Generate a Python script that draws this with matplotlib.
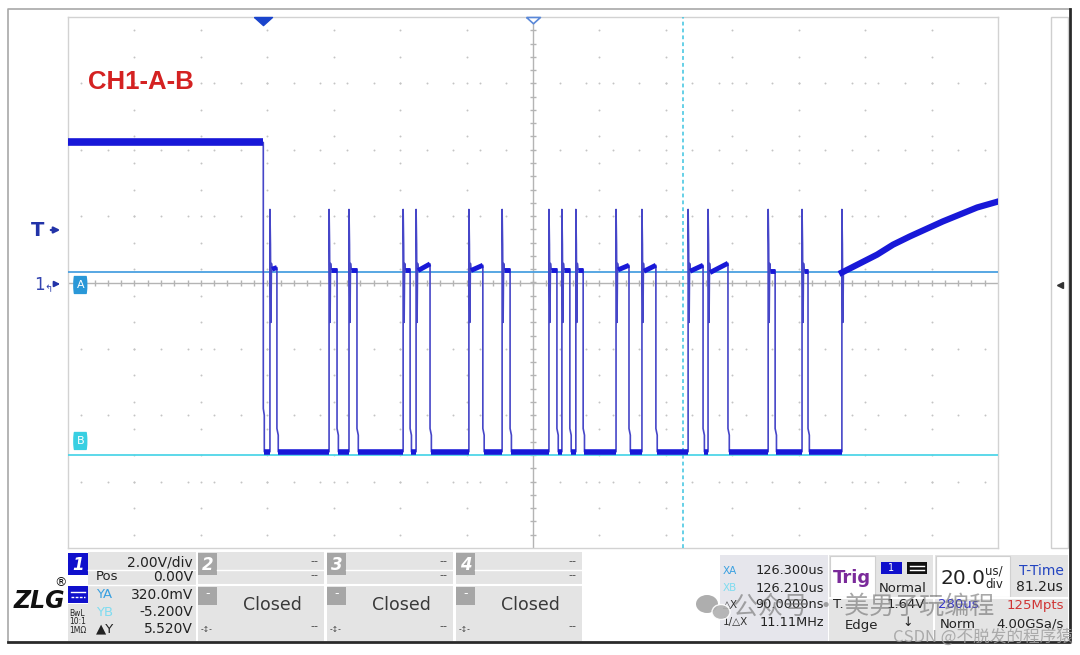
"""Oscilloscope capture: CH1 with A/B cursors, 20 us/div, 2 V/div."""
import matplotlib.pyplot as plt
import numpy as np
from matplotlib.patches import Rectangle, FancyBboxPatch, Ellipse

# ---- CH1 trace (time in us from screen centre, volts) ----
trig_us = -81.2
cursor_x_us = trig_us + 126.3
cursor_a_v = 0.32
cursor_b_v = -5.2
high_v = 4.22
low_v = -5.1
spike_v = 2.2
ring_hi_v = 1.15
ring_lo_v = -1.2
first_fall_kink_v = -3.8
fall_kink_v = -4.4

pulse_rise_us = [-79.2, -61.4, -55.4, -39.1, -35.2, -19.3, -9.3, 4.8,
                 8.7, 12.9, 25.0, 32.8, 46.7, 52.7, 70.8, 81.0]
pulse_fall_us = [-77.1, -59.0, -53.0, -37.0, -31.0, -15.1, -6.9, 7.2,
                 11.1, 15.1, 28.9, 37.0, 51.2, 58.7, 72.9, 82.8]
plateau_start_v = [0.40, 0.39, 0.39, 0.39, 0.36, 0.36, 0.39, 0.39,
                   0.39, 0.39, 0.38, 0.34, 0.34, 0.30, 0.36, 0.36]
plateau_end_v = [0.45, 0.39, 0.39, 0.39, 0.56, 0.52, 0.39, 0.39,
                 0.39, 0.39, 0.52, 0.52, 0.52, 0.58, 0.36, 0.36]

ramp_us = [93.0, 103.6, 108.4, 113.5, 123.4, 133.7, 140.0]
ramp_v = [0.30, 0.84, 1.14, 1.39, 1.84, 2.26, 2.44]

# ---- status bar texts ----
ch1_rows = [("", "2.00V/div"), ("Pos", "0.00V"), ("YA", "320.0mV"),
            ("YB", "-5.200V"), ("\u25b2Y", "5.520V")]
closed_channels = ["2", "3", "4"]
cursor_rows = [("XA", "126.300us"), ("XB", "126.210us"),
               ("\u25b3X", "90.0000ns"), ("1/\u25b3X", "11.11MHz")]

TRACE_THIN = "#4646c8"
TRACE_THICK = "#1818d8"
GRID = "#c4c4c4"
PANEL = "#e4e4e4"

fig = plt.figure(figsize=(10.8, 6.55), dpi=100, facecolor="white")

# overlay in pixel coordinates for the instrument frame / status bar
ov = fig.add_axes([0, 0, 1, 1], zorder=0)
ov.set_xlim(0, 1080)
ov.set_ylim(655, 0)
ov.axis("off")

# outer frame
ov.plot([8, 8, 1070], [642, 9, 9], color="#a8a8a8", lw=1.2)
ov.plot([1070, 1070, 8], [9, 642, 642], color="#2a2a2a", lw=2)
ov.add_patch(Rectangle((1051, 17), 17, 531, fc="white", ec="#cfcfcf", lw=1))
ov.plot(1060, 285, marker="<", ms=5, color="#333333")

# left markers
ov.text(31, 230, "T", fontsize=14, fontweight="bold", color="#2233a8", va="center")
ov.annotate("", xy=(63, 230), xytext=(48, 230),
            arrowprops=dict(arrowstyle="-|>", color="#2233a8", lw=1.6, mutation_scale=9))
ov.text(34, 285, "1", fontsize=12, color="#3344b0", va="center")
ov.text(44, 289, "\u21b0", fontsize=7, color="#3344b0", va="center")
ov.annotate("", xy=(63, 284), xytext=(51, 284),
            arrowprops=dict(arrowstyle="-|>", color="#2233a8", lw=1.4, mutation_scale=8))

# ZLG logo
ov.text(14, 601, "ZLG", fontsize=17, fontweight="bold", fontstyle="italic",
        color="#111111", va="center")
ov.text(54, 583, "\u00ae", fontsize=9, color="#111111", va="center")

# channel 1 panel
ov.add_patch(Rectangle((88, 552), 108, 89, fc=PANEL, ec="none"))
ov.add_patch(Rectangle((68, 553), 20, 22, fc="#1010cc", ec="none"))
ov.text(78, 565, "1", fontsize=12, fontweight="bold", fontstyle="italic",
        color="white", ha="center", va="center")
ov.add_patch(Rectangle((68, 586), 20, 17, fc="#1010cc", ec="none"))
ov.plot([71, 85], [592, 592], color="white", lw=1)
ov.plot([71, 85], [597, 597], color="white", lw=1, ls=(0, (2, 1)))
ov.add_patch(Rectangle((68, 604), 20, 37, fc=PANEL, ec="none"))
ov.text(69, 622, "BwL\n10:1\n1M\u03a9", fontsize=5.5, color="#222222",
        va="center", linespacing=0.95)
row_y = [563, 577, 595, 612, 629]
label_colors = ["#222222", "#222222", "#3aa0e0", "#7fdcf0", "#222222"]
for (lab, val), y, c in zip(ch1_rows, row_y, label_colors):
    if lab:
        ov.text(96, y, lab, fontsize=9.5, color=c, va="center")
    ov.text(193, y, val, fontsize=10, color="#222222", ha="right", va="center")
ov.plot([88, 196], [570, 570], color="white", lw=1)
ov.plot([88, 196], [585, 585], color="white", lw=1)

# closed channels 2-4
for i, ch in enumerate(closed_channels):
    x0 = 198 + 129 * i
    ov.add_patch(Rectangle((x0, 552), 126, 89, fc=PANEL, ec="none"))
    ov.plot([x0 + 19, x0 + 126], [570, 570], color="white", lw=1)
    ov.plot([x0, x0 + 126], [585, 585], color="white", lw=1.5)
    ov.add_patch(Rectangle((x0, 553), 19, 22, fc="#a6a6a6", ec="none"))
    ov.text(x0 + 9.5, 565, ch, fontsize=12, fontweight="bold", fontstyle="italic",
            color="white", ha="center", va="center")
    ov.add_patch(Rectangle((x0, 587), 19, 18, fc="#a6a6a6", ec="none"))
    ov.text(x0 + 9.5, 594, "-", fontsize=9, color="white", ha="center", va="center")
    ov.text(x0 + 120, 561, "--", fontsize=8, color="#444444", ha="right", va="center")
    ov.text(x0 + 120, 575, "--", fontsize=8, color="#444444", ha="right", va="center")
    ov.text(x0 + 74, 605, "Closed", fontsize=12.5, color="#3a3a3a", ha="center", va="center")
    ov.text(x0 + 3, 629, "-\u2195-", fontsize=5.5, color="#444444", va="center")
    ov.text(x0 + 120, 626, "--", fontsize=8, color="#444444", ha="right", va="center")

# cursor readout block
ov.add_patch(Rectangle((720, 555), 108, 86, fc="#e6e6ec", ec="none"))
cur_label_colors = ["#3aa0e0", "#7fdcf0", "#333333", "#333333"]
for (lab, val), y, c in zip(cursor_rows, [571, 588, 605, 622], cur_label_colors):
    ov.text(723, y, lab, fontsize=7.5, color=c, va="center")
    ov.text(824, y, val, fontsize=9.3, color="#222222", ha="right", va="center")

# trigger block
ov.add_patch(Rectangle((829, 555), 104, 86, fc=PANEL, ec="none"))
ov.add_patch(Rectangle((830, 556), 45, 41, fc="white", ec="#d0d0d0", lw=0.8))
ov.text(852, 578, "Trig", fontsize=13, fontweight="bold", color="#7a2a9a",
        ha="center", va="center")
ov.add_patch(Rectangle((881, 562), 21, 12, fc="#1010cc", ec="none"))
ov.text(891.5, 568, "1", fontsize=7, color="white", ha="center", va="center")
ov.add_patch(Rectangle((907, 562), 20, 12, fc="#111111", ec="none"))
ov.plot([910, 924], [566, 566], color="white", lw=1)
ov.plot([910, 924], [570, 570], color="white", lw=1)
ov.text(903, 588, "Normal", fontsize=9.5, color="#222222", ha="center", va="center")
ov.plot([829, 933], [598, 598], color="white", lw=1.5)
ov.text(833, 605, "T.", fontsize=9.5, color="#222222", va="center")
ov.text(925, 605, "1.64V", fontsize=9.5, color="#222222", ha="right", va="center")
ov.text(861, 626, "Edge", fontsize=9.5, color="#222222", ha="center", va="center")
ov.text(908, 623, "\u2193", fontsize=9, color="#222222", ha="center", va="center")

# timebase block
ov.add_patch(Rectangle((935, 555), 133, 86, fc=PANEL, ec="none"))
ov.add_patch(Rectangle((936, 556), 74, 41, fc="white", ec="#d0d0d0", lw=0.8))
ov.text(941, 578, "20.0", fontsize=14.5, color="#222222", va="center")
ov.text(985, 571, "us/", fontsize=8.5, color="#222222", va="center")
ov.text(985, 585, "div", fontsize=8.5, color="#222222", va="center")
ov.text(1041, 571, "T-Time", fontsize=10, color="#2244c0", ha="center", va="center")
ov.text(1063, 587, "81.2us", fontsize=10, color="#222222", ha="right", va="center")
ov.plot([935, 1068], [598, 598], color="white", lw=1.5)
ov.text(938, 605, "280us", fontsize=9.5, color="#3535c8", va="center")
ov.text(1064, 605, "125Mpts", fontsize=9.5, color="#d03535", ha="right", va="center")
ov.text(940, 624, "Norm", fontsize=9.5, color="#222222", va="center")
ov.text(1064, 624, "4.00GSa/s", fontsize=9.5, color="#222222", ha="right", va="center")

# watermarks
ov.add_patch(Ellipse((707, 604), 22, 18, fc="#9a9a9a", ec="none", alpha=0.8, zorder=5))
ov.add_patch(Ellipse((721, 612), 18, 15, fc="#b0b0b0", ec="white", lw=1, alpha=0.9, zorder=5))
ov.text(733, 607, "公众号 · 美男子玩编程", fontsize=18, color="#6e6e6e", alpha=0.6,
        va="center", zorder=6, family=["Noto Sans CJK SC", "DejaVu Sans"])
ov.text(1073, 637, "CSDN @不脱发的程序猿", fontsize=12, color="#a0a0a0", alpha=0.85,
        ha="right", va="center", zorder=6, family=["Noto Sans CJK SC", "DejaVu Sans"])

# ---- main graticule ----
ax = fig.add_axes([68 / 1080, 1 - 548 / 655, 930 / 1080, 531 / 655], zorder=2)
ax.set_xlim(-140, 140)
ax.set_ylim(-8, 8)
ax.set_xticks([])
ax.set_yticks([])
for s in ax.spines.values():
    s.set_color("#d2d2d2")
    s.set_linewidth(1)

div_x = np.arange(-120, 121, 20)
div_y = np.arange(-6, 7, 2)
for x in div_x:
    if x != 0:
        yy = np.arange(-7.6, 7.7, 0.8)
        ax.plot(np.full_like(yy, x), yy, ls="none", marker="o", ms=1.4,
                color=GRID, mec="none")
for y in div_y:
    if y != 0:
        xx = np.arange(-136, 137, 8)
        ax.plot(xx, np.full(len(xx), float(y)), ls="none", marker="o", ms=1.4,
                color=GRID, mec="none")
# centre crosshair with minor ticks
ax.axhline(0, color="#b4b4b4", lw=1)
ax.axvline(0, color="#b4b4b4", lw=1)
tx = np.arange(-136, 137, 4)
ax.plot(tx, np.zeros(len(tx)), ls="none", marker="|", ms=5, color="#b4b4b4", mew=1)
ty = np.arange(-7.6, 7.7, 0.4)
ax.plot(np.zeros(len(ty)), ty, ls="none", marker="_", ms=5, color="#b4b4b4", mew=1)

# cursors
ax.axhline(cursor_a_v, color="#4aa0e0", lw=1.3, zorder=3)
ax.axhline(cursor_b_v, color="#4fd6e8", lw=1.3, zorder=3)
ax.axvline(cursor_x_us, color="#3cc4e0", lw=1.1, ls=(0, (2.5, 2)), zorder=3)

# ---- build CH1 trace from the edge lists ----
t = [-140.0, trig_us, trig_us, trig_us + 0.3, trig_us + 0.3]
v = [high_v, high_v, first_fall_kink_v, first_fall_kink_v - 0.2, low_v]
for r, f, vs, ve in zip(pulse_rise_us, pulse_fall_us, plateau_start_v, plateau_end_v):
    t += [r, r, r + 0.15, r + 0.3, r + 0.45, r + 0.6, f, f, f + 0.4, f + 0.4]
    v += [low_v, spike_v, ring_hi_v, ring_lo_v, ring_hi_v * 0.5, vs, ve,
          fall_kink_v, fall_kink_v - 0.2, low_v]
r = ramp_us[0]
t += [r, r, r + 0.15, r + 0.3, r + 0.45] + ramp_us[1:]
v += [low_v, spike_v, ring_hi_v, ring_lo_v, ramp_v[0]] + ramp_v[1:]
ax.plot(t, v, color=TRACE_THIN, lw=1.2, zorder=4)

# thick (noisy) level segments
ax.plot([-140, trig_us], [high_v, high_v], color=TRACE_THICK, lw=5.5,
        solid_capstyle="butt", zorder=5)
low_start = [trig_us + 0.3] + [f + 0.4 for f in pulse_fall_us]
low_end = pulse_rise_us + [ramp_us[0]]
ax.hlines(np.full(len(low_start), low_v), low_start, low_end, color=TRACE_THICK,
          lw=4, zorder=5)
for r, f, vs, ve in zip(pulse_rise_us, pulse_fall_us, plateau_start_v, plateau_end_v):
    ax.plot([r + 0.6, f], [vs, ve], color=TRACE_THICK, lw=3.5,
            solid_capstyle="butt", zorder=5)
ax.plot(ramp_us, ramp_v, color=TRACE_THICK, lw=4.5, zorder=5)

# trigger-position and centre markers at top
tri = [(-1, 0), (1, 0), (0, -0.9), (-1, 0)]
ax.plot(trig_us, 8, marker=tri, ms=13, color="#1a44cc", clip_on=False, zorder=6)
ax.plot(0, 8, marker=tri, ms=10, mfc="white", mec="#5a88d8", mew=1.2,
        clip_on=False, zorder=6)

# cursor tags
ax.add_patch(FancyBboxPatch((-138.4, cursor_a_v - 0.62), 4.2, 0.45,
                            boxstyle="round,pad=0.05,rounding_size=0.3",
                            fc="#2a98d8", ec="none", zorder=6))
ax.text(-136.3, cursor_a_v - 0.4, "A", fontsize=8, color="white", ha="center",
        va="center", zorder=7)
ax.add_patch(FancyBboxPatch((-138.4, cursor_b_v + 0.2), 4.2, 0.45,
                            boxstyle="round,pad=0.05,rounding_size=0.3",
                            fc="#38cfe2", ec="none", zorder=6))
ax.text(-136.3, cursor_b_v + 0.42, "B", fontsize=8, color="white", ha="center",
        va="center", zorder=7)

ax.text(0.0215, 0.878, "CH1-A-B", transform=ax.transAxes, fontsize=18.5,
        fontweight="bold", color="#d42222", family="Liberation Sans", va="center")

fig.savefig("out.png", dpi=100, facecolor="white")
